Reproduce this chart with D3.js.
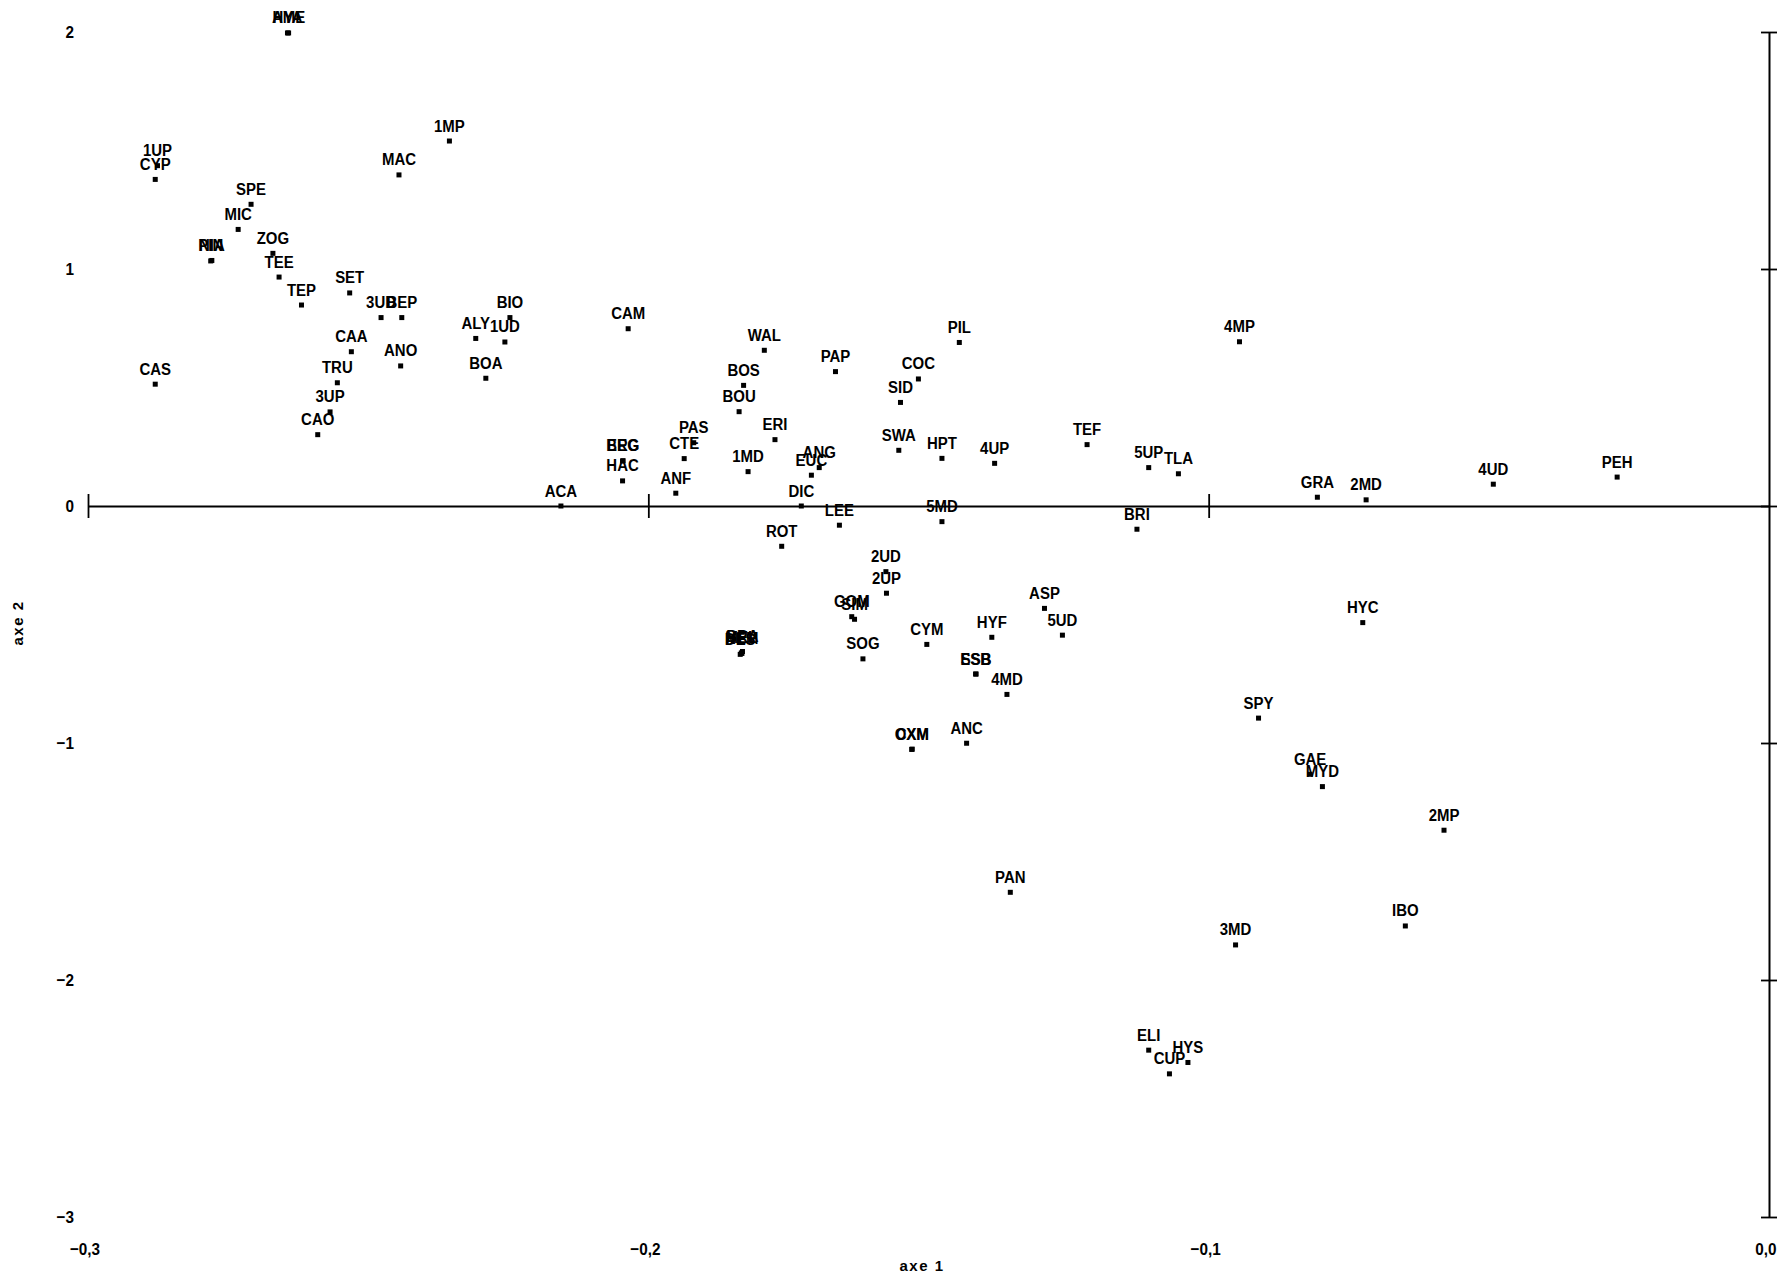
<!DOCTYPE html>
<html>
<head>
<meta charset="utf-8">
<script src="https://cdn.jsdelivr.net/npm/d3@7"></script>
<style>
  body { margin: 0; background: #fff; }
  svg { display: block; }
  text { font-family: "Liberation Sans", Arial, sans-serif; fill: #000; }
</style>
</head>
<body>
<svg id="chart" width="1792" height="1278"></svg>
<script>
// Species / sample codes and their coordinates on the first two axes
const codes = [
  "HYA","AME","1MP","1UP","CYP","MAC","SPE","MIC","PIN","NIA","ZOG","TEE","TEP","SET",
  "3UD","BEP","CAA","ANO","TRU","3UP","CAO","CAS","ALY","1UD","BIO","BOA","ACA","CAM",
  "WAL","BOS","BOU","PAP","COC","SID","PIL","PAS","CTE","BEG","ERG","HAC","ANF","1MD",
  "ERI","ANG","EUC","DIC","LEE","5MD","ROT","SWA","HPT","4UP","TEF","4MP","5UP","TLA",
  "BRI","GRA","2MD","4UD","PEH","2UD","2UP","GOM","SIM","MEL","BRA","DES","HEM","SOG",
  "CYM","HYF","ASP","5UD","ESB","SSB","4MD","OXM","CXM","ANC","HYC","SPY","GAE","MYD",
  "2MP","IBO","3MD","PAN","ELI","HYS","CUP"
];
const axe1 = [
  -0.2644,-0.2642,-0.2355,-0.2876,-0.2880,-0.2445,-0.2709,-0.2732,-0.2781,-0.2779,-0.2670,-0.2659,-0.2619,-0.2533,
  -0.2477,-0.2440,-0.2530,-0.2442,-0.2555,-0.2568,-0.2590,-0.2880,-0.2308,-0.2256,-0.2247,-0.2290,-0.2156,-0.2036,
  -0.1793,-0.1830,-0.1838,-0.1666,-0.1518,-0.1550,-0.1445,-0.1919,-0.1936,-0.2046,-0.2045,-0.2046,-0.1951,-0.1822,
  -0.1774,-0.1695,-0.1709,-0.1727,-0.1659,-0.1476,-0.1762,-0.1553,-0.1476,-0.1382,-0.1217,-0.0945,-0.1107,-0.1054,
  -0.1128,-0.0806,-0.0719,-0.0492,-0.0271,-0.1576,-0.1575,-0.1637,-0.1632,-0.1834,-0.1832,-0.1836,-0.1833,-0.1617,
  -0.1503,-0.1387,-0.1293,-0.1261,-0.1416,-0.1415,-0.1360,-0.1530,-0.1529,-0.1432,-0.0725,-0.0911,-0.0819,-0.0797,
  -0.0580,-0.0649,-0.0952,-0.1354,-0.1107,-0.1037,-0.1070
];
const axe2 = [
  1.996, 1.996, 1.540, 1.436, 1.378, 1.397, 1.273, 1.167, 1.034, 1.036, 1.066, 0.966, 0.848, 0.899,
  0.795, 0.795, 0.651, 0.591, 0.520, 0.397, 0.301, 0.514, 0.707, 0.692, 0.795, 0.539, 0.000, 0.748,
  0.657, 0.509, 0.398, 0.567, 0.536, 0.437, 0.690, 0.267, 0.200, 0.190, 0.191, 0.106, 0.054, 0.145,
  0.280, 0.162, 0.130, 0.000,-0.081,-0.066,-0.170, 0.235, 0.201, 0.180, 0.259, 0.693, 0.162, 0.136,
 -0.098, 0.037, 0.026, 0.092, 0.122,-0.277,-0.368,-0.467,-0.478,-0.620,-0.614,-0.626,-0.622,-0.645,
 -0.584,-0.554,-0.432,-0.545,-0.709,-0.709,-0.795,-1.027,-1.026,-1.001,-0.492,-0.895,-1.132,-1.184,
 -1.368,-1.772,-1.852,-1.630,-2.296,-2.348,-2.396
];

// Axis ticks and their printed labels (French decimal comma)
const xTicks = [-0.3, -0.2, -0.1, 0.0];
const xTickLabels = ["\u22120,3", "\u22120,2", "\u22120,1", "0,0"];
const yTicks = [2, 1, 0, -1, -2, -3];
const yTickLabels = ["2", "1", "0", "\u22121", "\u22122", "\u22123"];
const xTitle = "axe 1";
const yTitle = "axe 2";

const points = codes.map((c, i) => ({ code: c, a1: axe1[i], a2: axe2[i] }));

const svg = d3.select("#chart");
const x = d3.scaleLinear().domain([-0.3, 0]).range([88, 1769]);
const y = d3.scaleLinear().domain([-3, 2]).range([1217, 32]);

// Horizontal axis drawn along axe 2 = 0
const xAxis = svg.append("g")
  .attr("transform", `translate(0,${y(0)})`)
  .call(d3.axisBottom(x).tickValues(xTicks.slice(0, 3)).tickSizeInner(12).tickSizeOuter(0).tickFormat(""));
xAxis.select(".domain").attr("stroke", "#000").attr("stroke-width", 2.2);
xAxis.selectAll(".tick line").attr("y1", -12).attr("y2", 12).attr("stroke", "#000").attr("stroke-width", 1.8);

// Vertical axis drawn along axe 1 = 0
const yAxis = svg.append("g")
  .attr("transform", `translate(${x(0)},0)`)
  .call(d3.axisRight(y).tickValues(yTicks).tickSizeInner(8).tickSizeOuter(0).tickFormat(""));
yAxis.select(".domain").attr("stroke", "#000").attr("stroke-width", 2);
yAxis.selectAll(".tick line").attr("x1", -8).attr("x2", 8).attr("stroke", "#000").attr("stroke-width", 1.8);

// Tick labels
svg.append("g").selectAll("text").data(xTicks).join("text")
  .attr("transform", d => `translate(${x(d) - 3},1255) scale(0.9,1)`)
  .attr("text-anchor", "middle")
  .attr("font-size", 17).attr("font-weight", "bold")
  .text((d, i) => xTickLabels[i]);

svg.append("g").selectAll("text").data(yTicks).join("text")
  .attr("transform", d => `translate(74,${y(d) + 6}) scale(0.9,1)`)
  .attr("text-anchor", "end")
  .attr("font-size", 17).attr("font-weight", "bold")
  .text((d, i) => yTickLabels[i]);

// Axis titles
svg.append("text")
  .attr("x", 922).attr("y", 1271)
  .attr("text-anchor", "middle")
  .attr("font-size", 15).attr("font-weight", "bold").attr("letter-spacing", 1.5)
  .text(xTitle);
svg.append("text")
  .attr("transform", `translate(23,623) rotate(-90)`)
  .attr("text-anchor", "middle")
  .attr("font-size", 15).attr("font-weight", "bold").attr("letter-spacing", 1.5)
  .text(yTitle);

// Point markers
const m = 5;
svg.append("g").selectAll("rect").data(points).join("rect")
  .attr("x", d => x(d.a1) - m / 2)
  .attr("y", d => y(d.a2) - m / 2)
  .attr("width", m).attr("height", m)
  .attr("fill", "#000");

// Point labels, centred just above each marker
svg.append("g").selectAll("text").data(points).join("text")
  .attr("transform", d => `translate(${x(d.a1)},${y(d.a2) - 9.5}) scale(0.88,1)`)
  .attr("text-anchor", "middle")
  .attr("font-size", 17).attr("font-weight", "bold")
  .text(d => d.code);
</script>
</body>
</html>
